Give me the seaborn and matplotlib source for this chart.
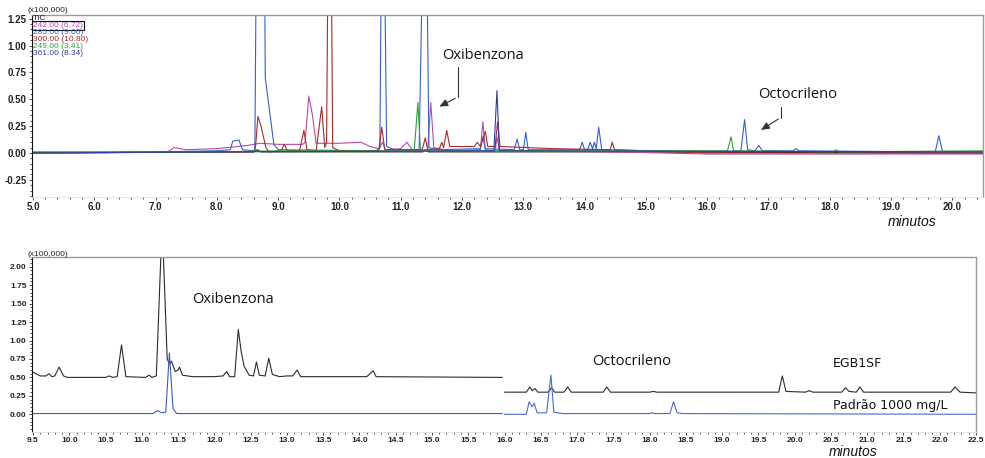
"""
Chromatograms: SIM traces of the sample (top) and sample vs. standard (bottom).
"""

import matplotlib
matplotlib.use('Agg')
import matplotlib.pyplot as plt
from matplotlib.ticker import MultipleLocator, FormatStrFormatter
import seaborn as sns

# ---- top panel traces: (time in min, intensity x100,000)
top_tic = [(5.0, 0.0), (8.6, 0.01), (8.66, 0.03), (8.72, 0.01), (11.36, 0.01), (11.4, 0.03),
           (11.45, 0.01), (14.0, 0.01), (20.5, 0.0)]
top_242 = [(5.0, 0.0), (7.2, 0.01), (7.3, 0.05), (7.5, 0.03), (8.0, 0.04), (8.5, 0.07), (8.7, 0.09),
           (9.0, 0.08), (9.4, 0.08), (9.44, 0.10), (9.5, 0.53), (9.56, 0.35), (9.62, 0.09), (10.0, 0.09),
           (10.35, 0.10), (10.5, 0.06), (10.65, 0.04), (10.7, 0.10), (10.75, 0.03), (11.0, 0.04),
           (11.1, 0.10), (11.2, 0.02), (11.44, 0.03), (11.49, 0.47), (11.54, 0.05), (11.8, 0.02),
           (12.3, 0.03), (12.34, 0.29), (12.38, 0.03), (12.54, 0.02), (12.57, 0.15), (12.61, 0.02),
           (14.5, 0.01), (16.0, -0.01), (20.5, -0.01)]
top_285 = [(5.0, 0.01), (7.0, 0.01), (8.0, 0.02), (8.22, 0.03), (8.26, 0.11), (8.36, 0.12), (8.42, 0.03),
           (8.62, 0.02), (8.64, 1.6), (8.78, 1.6), (8.79, 0.70), (8.93, 0.08), (9.0, 0.03), (10.6, 0.02),
           (10.66, 0.05), (10.68, 1.6), (10.74, 1.6), (10.77, 0.06), (10.9, 0.03), (11.3, 0.03),
           (11.35, 1.6), (11.43, 1.6), (11.46, 0.05), (11.6, 0.03), (12.3, 0.04), (12.34, 0.15),
           (12.38, 0.04), (12.85, 0.03), (12.9, 0.13), (12.94, 0.03), (13.0, 0.03), (13.04, 0.19),
           (13.08, 0.03), (13.92, 0.03), (13.96, 0.10), (14.0, 0.03), (14.05, 0.03), (14.09, 0.10),
           (14.13, 0.04), (14.16, 0.10), (14.19, 0.04), (14.23, 0.24), (14.28, 0.03), (16.0, 0.01),
           (16.55, 0.02), (16.61, 0.31), (16.66, 0.03), (16.78, 0.02), (16.84, 0.07), (16.9, 0.02),
           (17.4, 0.02), (17.45, 0.04), (17.5, 0.02), (19.72, 0.01), (19.78, 0.16), (19.84, 0.01),
           (20.5, 0.01)]
top_300 = [(5.0, 0.0), (8.6, 0.01), (8.63, 0.05), (8.67, 0.34), (8.72, 0.25), (8.8, 0.05), (8.85, 0.01),
           (9.05, 0.02), (9.1, 0.08), (9.15, 0.02), (9.35, 0.02), (9.42, 0.21), (9.47, 0.03), (9.62, 0.02),
           (9.71, 0.43), (9.76, 0.05), (9.79, 0.10), (9.81, 1.6), (9.87, 1.6), (9.89, 0.05), (10.0, 0.02),
           (10.64, 0.02), (10.69, 0.24), (10.74, 0.03), (11.35, 0.03), (11.4, 0.14), (11.44, 0.03),
           (11.63, 0.04), (11.67, 0.10), (11.7, 0.05), (11.75, 0.21), (11.8, 0.06), (12.2, 0.06),
           (12.25, 0.10), (12.3, 0.06), (12.38, 0.20), (12.42, 0.06), (12.54, 0.06), (12.58, 0.29),
           (12.62, 0.06), (13.5, 0.04), (14.42, 0.03), (14.45, 0.10), (14.49, 0.03), (16.0, 0.0),
           (20.5, 0.0)]
top_249 = [(5.0, 0.0), (8.0, 0.01), (9.0, 0.02), (11.22, 0.02), (11.28, 0.47), (11.32, 0.05),
           (11.35, 0.02), (16.33, 0.02), (16.39, 0.15), (16.43, 0.02), (18.05, 0.01), (18.1, 0.03),
           (18.15, 0.01), (20.5, 0.02)]
top_361 = [(5.0, 0.0), (8.0, 0.01), (12.52, 0.02), (12.57, 0.58), (12.61, 0.02), (20.5, 0.01)]

top_traces = [('TIC', top_tic, '#1a1a1a'), ('242.00 (6.72)', top_242, '#b84aa6'),
              ('285.00 (9.00)', top_285, '#3461cf'), ('300.00 (10.80)', top_300, '#a82a2a'),
              ('249.00 (3.41)', top_249, '#2e9e3e'), ('361.00 (8.34)', top_361, '#2c3f9c')]

# ---- bottom panel: sample EGB1SF (black) and standard 1000 mg/L (blue), two segments each
egb_a = [(9.5, 0.57), (9.6, 0.52), (9.68, 0.52), (9.72, 0.55), (9.76, 0.51), (9.8, 0.52), (9.86, 0.64),
         (9.92, 0.52), (9.97, 0.50), (10.5, 0.50), (10.55, 0.52), (10.6, 0.50), (10.66, 0.51),
         (10.72, 0.94), (10.78, 0.51), (11.05, 0.50), (11.1, 0.53), (11.14, 0.50), (11.2, 0.52),
         (11.28, 2.6), (11.35, 0.75), (11.38, 0.68), (11.41, 0.72), (11.46, 0.58), (11.5, 0.60),
         (11.52, 0.64), (11.56, 0.53), (11.7, 0.51), (12.0, 0.51), (12.12, 0.52), (12.17, 0.58),
         (12.21, 0.51), (12.28, 0.51), (12.33, 1.15), (12.37, 0.85), (12.41, 0.65), (12.48, 0.53),
         (12.54, 0.52), (12.58, 0.71), (12.62, 0.53), (12.7, 0.52), (12.75, 0.76), (12.8, 0.54),
         (12.9, 0.51), (13.0, 0.52), (13.08, 0.52), (13.14, 0.60), (13.19, 0.51), (14.1, 0.51),
         (14.19, 0.59), (14.23, 0.51), (15.97, 0.50)]
egb_b = [(16.0, 0.30), (16.3, 0.30), (16.35, 0.37), (16.38, 0.32), (16.42, 0.35), (16.46, 0.30),
         (16.6, 0.30), (16.65, 0.36), (16.69, 0.30), (16.82, 0.30), (16.87, 0.37), (16.92, 0.30),
         (17.36, 0.30), (17.41, 0.37), (17.46, 0.30), (18.0, 0.30), (18.05, 0.31), (18.1, 0.30),
         (19.78, 0.30), (19.83, 0.52), (19.88, 0.31), (20.15, 0.30), (20.2, 0.32), (20.25, 0.30),
         (20.65, 0.30), (20.7, 0.36), (20.75, 0.31), (20.85, 0.30), (20.9, 0.37), (20.95, 0.30),
         (22.15, 0.30), (22.21, 0.37), (22.28, 0.30), (22.5, 0.29)]
std_a = [(9.5, 0.01), (11.15, 0.01), (11.22, 0.05), (11.27, 0.02), (11.33, 0.03), (11.38, 0.83),
         (11.43, 0.08), (11.48, 0.01), (15.97, 0.01)]
std_b = [(16.0, 0.0), (16.3, 0.0), (16.34, 0.17), (16.38, 0.10), (16.41, 0.15), (16.45, 0.02),
         (16.58, 0.02), (16.64, 0.53), (16.68, 0.03), (16.8, 0.01), (18.0, 0.01), (18.03, 0.02),
         (18.06, 0.01), (18.28, 0.01), (18.33, 0.17), (18.38, 0.02), (18.45, 0.01), (22.5, 0.0)]

bottom_traces = [(egb_a, '#2b2b2b'), (egb_b, '#2b2b2b'), (std_a, '#3c5cc4'), (std_b, '#4a6bd0')]


def draw_trace(ax, points, color):
    t, y = zip(*points)
    sns.lineplot(x=list(t), y=list(y), ax=ax, color=color, lw=0.8,
                 estimator=None, sort=False)


def style_axes(ax, xmaj, xmin, ymaj, ymin, size):
    ax.xaxis.set_major_locator(MultipleLocator(xmaj))
    ax.xaxis.set_minor_locator(MultipleLocator(xmin))
    ax.yaxis.set_major_locator(MultipleLocator(ymaj))
    ax.yaxis.set_minor_locator(MultipleLocator(ymin))
    ax.xaxis.set_major_formatter(FormatStrFormatter('%.1f'))
    ax.yaxis.set_major_formatter(FormatStrFormatter('%.2f'))
    ax.tick_params(which='both', direction='out', bottom=True, left=True,
                   labelsize=size, width=0.6, color='#333333')
    ax.tick_params(which='major', length=2.5)
    ax.tick_params(which='minor', length=1.5)
    ax.tick_params(axis='x', pad=1)
    ax.tick_params(axis='y', pad=1.5)
    for lab in ax.get_xticklabels() + ax.get_yticklabels():
        lab.set_fontweight('bold')
        lab.set_color('#222222')
    ax.spines['left'].set_color('#111111')
    ax.spines['left'].set_linewidth(0.8)
    for s in ('top', 'right'):
        ax.spines[s].set_visible(True)
        ax.spines[s].set_color('#9a9a9a')
        ax.spines[s].set_linewidth(1.0)
    ax.spines['bottom'].set_color('#dddddd')
    ax.spines['bottom'].set_linewidth(0.6)
    ax.set_xlabel('')
    ax.set_ylabel('')


sns.set_style('ticks')
plt.rcParams['font.family'] = ['Liberation Sans', 'DejaVu Sans']

fig = plt.figure(figsize=(9.85, 4.58), dpi=100)
W, H = 985, 458
ax1 = fig.add_axes([32 / W, 1 - 197 / H, 951 / W, (197 - 14.7) / H])
ax2 = fig.add_axes([32 / W, 1 - 432 / H, 944 / W, (432 - 256.7) / H])

# top panel
for name, pts, col in top_traces:
    draw_trace(ax1, pts, col)
ax1.set_xlim(4.984, 20.50)
ax1.set_ylim(-0.41, 1.287)
style_axes(ax1, 1.0, 0.2, 0.25, 0.05, 7)

fig.text(28 / W, 1 - 11 / H, '(x100,000)', fontsize=6, color='#222222', va='center')
for i, (name, pts, col) in enumerate(top_traces):
    box = dict(boxstyle='square,pad=0.1', fc='none', ec='#111111', lw=0.8) if i == 1 else None
    fig.text(33 / W, 1 - (18.5 + 7 * i) / H, name, fontsize=6, color=col, va='center', bbox=box)

ann = dict(fontsize=10.5, family=['Open Sans', 'DejaVu Sans'], color='#111111', va='center')
ax1.text(11.67, 0.91, 'Oxibenzona', **ann)
ax1.plot([11.93, 11.93], [0.80, 0.52], color='#333333', lw=0.8)
ax1.annotate('', xy=(11.59, 0.42), xytext=(11.93, 0.52),
             arrowprops=dict(arrowstyle='-|>,head_length=0.5,head_width=0.22', color='#333333', lw=0.8))
ax1.text(16.83, 0.54, 'Octocrileno', **ann)
ax1.plot([17.20, 17.20], [0.43, 0.33], color='#333333', lw=0.8)
ax1.annotate('', xy=(16.84, 0.20), xytext=(17.20, 0.33),
             arrowprops=dict(arrowstyle='-|>,head_length=0.5,head_width=0.22', color='#333333', lw=0.8))
fig.text(912 / W, 1 - 222 / H, 'minutos', fontsize=10, style='italic', ha='center', va='center',
         family=['Liberation Sans', 'DejaVu Sans'], color='#111111')

# bottom panel
for pts, col in bottom_traces:
    draw_trace(ax2, pts, col)
ax2.set_xlim(9.486, 22.5)
ax2.set_ylim(-0.24, 2.136)
style_axes(ax2, 0.5, 0.1, 0.25, 0.05, 6)

fig.text(28 / W, 1 - 254 / H, '(x100,000)', fontsize=6, color='#222222', va='center')
ax2.text(11.69, 1.56, 'Oxibenzona', **ann)
ax2.text(17.21, 0.72, 'Octocrileno', **ann)
lab = dict(fontsize=9, family=['DejaVu Sans'], color='#111111', va='center')
ax2.text(20.53, 0.69, 'EGB1SF', **lab)
ax2.text(20.53, 0.12, 'Padrão 1000 mg/L', **lab)
fig.text(853 / W, 1 - 452 / H, 'minutos', fontsize=10, style='italic', ha='center', va='center',
         family=['Liberation Sans', 'DejaVu Sans'], color='#111111')

plt.savefig('out.png', dpi=100)
